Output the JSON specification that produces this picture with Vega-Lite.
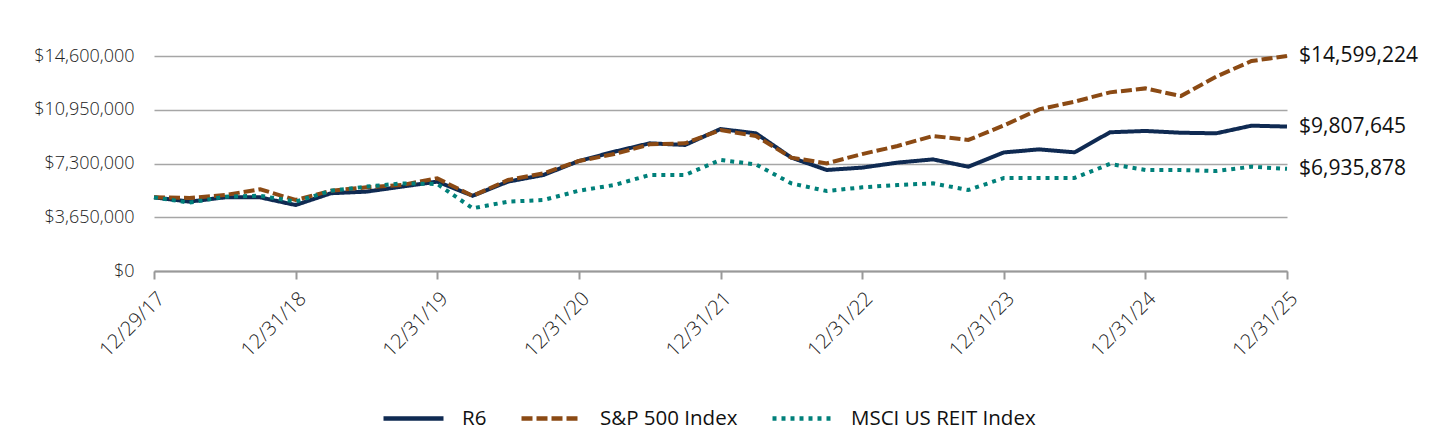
{
  "$schema": "https://vega.github.io/schema/vega-lite/v6.json",
  "width": 1133,
  "height": 215,
  "autosize": {"type": "none"},
  "padding": {"left": 154, "top": 56, "right": 153, "bottom": 161},
  "background": "white",
  "config": {
    "view": {"stroke": null},
    "font": "Open Sans",
    "axis": {"labelFont": "Open Sans", "labelColor": "#222222"},
    "legend": {"labelFont": "Open Sans"}
  },
  "data": {
    "values": [
      {"date": "12/29/17", "R6": 5000000, "S&P 500 Index": 5000000, "MSCI US REIT Index": 5000000},
      {"date": "3/31/18", "R6": 4710000, "S&P 500 Index": 4960000, "MSCI US REIT Index": 4640000},
      {"date": "6/30/18", "R6": 5000000, "S&P 500 Index": 5160000, "MSCI US REIT Index": 5050000},
      {"date": "9/30/18", "R6": 5000000, "S&P 500 Index": 5550000, "MSCI US REIT Index": 5110000},
      {"date": "12/31/18", "R6": 4480000, "S&P 500 Index": 4820000, "MSCI US REIT Index": 4710000},
      {"date": "3/31/19", "R6": 5280000, "S&P 500 Index": 5450000, "MSCI US REIT Index": 5450000},
      {"date": "6/30/19", "R6": 5390000, "S&P 500 Index": 5680000, "MSCI US REIT Index": 5730000},
      {"date": "9/30/19", "R6": 5730000, "S&P 500 Index": 5840000, "MSCI US REIT Index": 5950000},
      {"date": "12/31/19", "R6": 6070000, "S&P 500 Index": 6290000, "MSCI US REIT Index": 5910000},
      {"date": "3/31/20", "R6": 5110000, "S&P 500 Index": 5100000, "MSCI US REIT Index": 4260000},
      {"date": "6/30/20", "R6": 6070000, "S&P 500 Index": 6180000, "MSCI US REIT Index": 4710000},
      {"date": "9/30/20", "R6": 6520000, "S&P 500 Index": 6630000, "MSCI US REIT Index": 4820000},
      {"date": "12/31/20", "R6": 7470000, "S&P 500 Index": 7470000, "MSCI US REIT Index": 5450000},
      {"date": "3/31/21", "R6": 8100000, "S&P 500 Index": 7940000, "MSCI US REIT Index": 5840000},
      {"date": "6/30/21", "R6": 8670000, "S&P 500 Index": 8600000, "MSCI US REIT Index": 6520000},
      {"date": "9/30/21", "R6": 8560000, "S&P 500 Index": 8670000, "MSCI US REIT Index": 6520000},
      {"date": "12/31/21", "R6": 9640000, "S&P 500 Index": 9570000, "MSCI US REIT Index": 7540000},
      {"date": "3/31/22", "R6": 9350000, "S&P 500 Index": 9170000, "MSCI US REIT Index": 7240000},
      {"date": "6/30/22", "R6": 7700000, "S&P 500 Index": 7700000, "MSCI US REIT Index": 5950000},
      {"date": "9/30/22", "R6": 6860000, "S&P 500 Index": 7310000, "MSCI US REIT Index": 5430000},
      {"date": "12/31/22", "R6": 7020000, "S&P 500 Index": 7940000, "MSCI US REIT Index": 5680000},
      {"date": "3/31/23", "R6": 7360000, "S&P 500 Index": 8490000, "MSCI US REIT Index": 5840000},
      {"date": "6/30/23", "R6": 7580000, "S&P 500 Index": 9170000, "MSCI US REIT Index": 5950000},
      {"date": "9/30/23", "R6": 7080000, "S&P 500 Index": 8900000, "MSCI US REIT Index": 5500000},
      {"date": "12/31/23", "R6": 8050000, "S&P 500 Index": 9880000, "MSCI US REIT Index": 6310000},
      {"date": "3/31/24", "R6": 8260000, "S&P 500 Index": 10980000, "MSCI US REIT Index": 6320000},
      {"date": "6/30/24", "R6": 8060000, "S&P 500 Index": 11500000, "MSCI US REIT Index": 6320000},
      {"date": "9/30/24", "R6": 9420000, "S&P 500 Index": 12130000, "MSCI US REIT Index": 7270000},
      {"date": "12/31/24", "R6": 9510000, "S&P 500 Index": 12400000, "MSCI US REIT Index": 6860000},
      {"date": "3/31/25", "R6": 9390000, "S&P 500 Index": 11880000, "MSCI US REIT Index": 6860000},
      {"date": "6/30/25", "R6": 9350000, "S&P 500 Index": 13200000, "MSCI US REIT Index": 6790000},
      {"date": "9/30/25", "R6": 9870000, "S&P 500 Index": 14260000, "MSCI US REIT Index": 7080000},
      {"date": "12/31/25", "R6": 9807645, "S&P 500 Index": 14599224, "MSCI US REIT Index": 6935878}
    ]
  },
  "transform": [
    {"fold": ["R6", "S&P 500 Index", "MSCI US REIT Index"], "as": ["series", "value"]}
  ],
  "encoding": {
    "x": {
      "field": "date",
      "type": "ordinal",
      "sort": null,
      "scale": {"type": "point", "padding": 0},
      "axis": {
        "title": null,
        "values": ["12/29/17", "12/31/18", "12/31/19", "12/31/20", "12/31/21", "12/31/22", "12/31/23", "12/31/24", "12/31/25"],
        "labelAngle": -45,
        "labelFontSize": 20,
        "labelFontWeight": 300,
        "labelPadding": 9,
        "domainColor": "#999999",
        "domainWidth": 2,
        "tickColor": "#999999",
        "tickWidth": 2,
        "tickSize": 8,
        "grid": false
      }
    },
    "y": {
      "field": "value",
      "type": "quantitative",
      "scale": {"domain": [0, 14600000], "nice": false},
      "axis": {
        "title": null,
        "values": [0, 3650000, 7300000, 10950000, 14600000],
        "format": "$,.0f",
        "labelFontSize": 18,
        "labelFontWeight": 300,
        "labelPadding": 20,
        "ticks": false,
        "domain": false,
        "grid": true,
        "gridColor": "#a6a6a6",
        "gridWidth": 1.5
      }
    }
  },
  "layer": [
    {
      "mark": {"type": "line", "strokeWidth": 4, "strokeCap": "butt"},
      "encoding": {
        "color": {
          "field": "series",
          "type": "nominal",
          "scale": {
            "domain": ["R6", "S&P 500 Index", "MSCI US REIT Index"],
            "range": ["#0f2a52", "#8b4a14", "#00807a"]
          },
          "legend": {
            "title": null,
            "orient": "none",
            "legendX": 227,
            "legendY": 330,
            "direction": "horizontal",
            "symbolType": "stroke",
            "symbolSize": 3600,
            "symbolStrokeWidth": 4.5,
            "labelFontSize": 20.5,
            "labelLimit": 400,
            "labelColor": "#111111",
            "labelOffset": 16,
            "columnPadding": 25
          }
        },
        "strokeDash": {
          "field": "series",
          "type": "nominal",
          "scale": {
            "domain": ["R6", "S&P 500 Index", "MSCI US REIT Index"],
            "range": [[1, 0], [11, 4], [4, 5]]
          },
          "legend": null
        }
      }
    },
    {
      "transform": [{"filter": "datum.date === '12/31/25'"}],
      "mark": {"type": "text", "align": "left", "baseline": "middle", "dx": 12, "fontSize": 21, "color": "#111111", "font": "Open Sans"},
      "encoding": {
        "text": {"field": "value", "type": "quantitative", "format": "$,.0f"}
      }
    }
  ]
}
